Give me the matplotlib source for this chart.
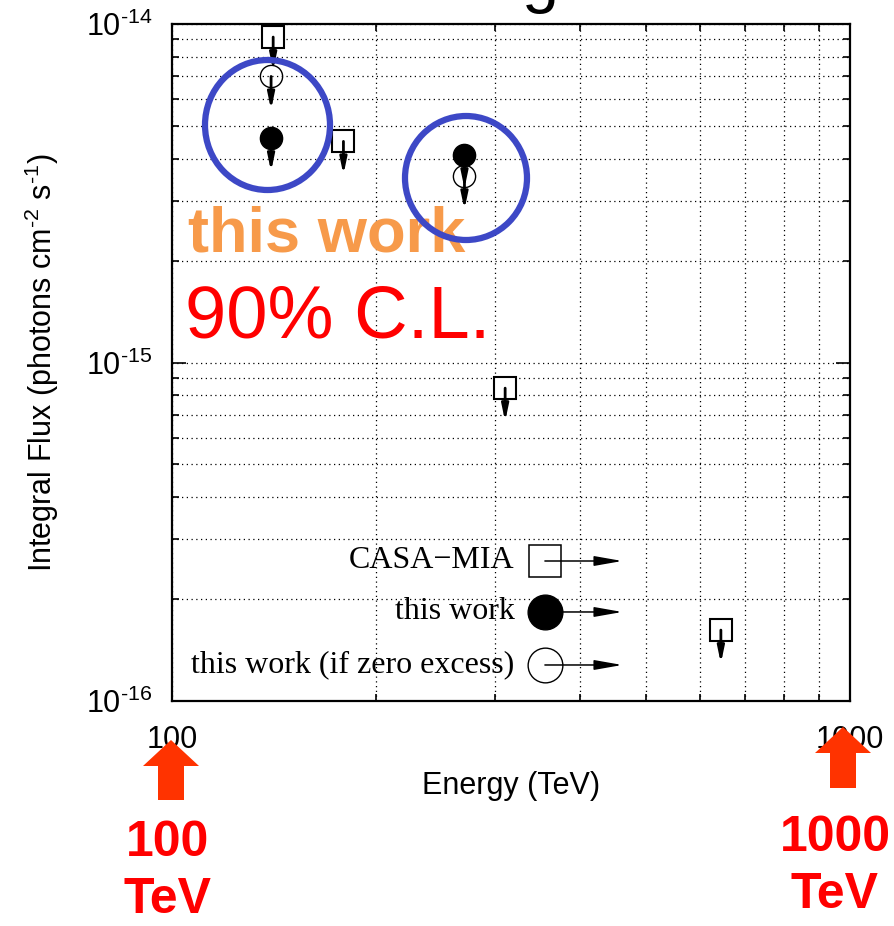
import math
import matplotlib
matplotlib.use("Agg")
import matplotlib.pyplot as plt
from matplotlib.patches import Ellipse, FancyArrow
from matplotlib.transforms import offset_copy
from matplotlib.ticker import FixedLocator, FuncFormatter, LogLocator, NullFormatter

# ---------------- data ----------------
casa_energy = [141, 179, 310, 645]
casa_flux = [9.15e-15, 4.5e-15, 8.4e-16, 1.62e-16]
work_energy = [140, 270]
work_flux = [4.6e-15, 4.1e-15]
zero_energy = [140, 270]
zero_flux = [7.0e-15, 3.55e-15]
legend_labels = ["CASA\u2212MIA", "this work", "this work (if zero excess)"]
xtick_vals = [100, 1000]
ytick_vals = [1e-16, 1e-15, 1e-14]

plt.rcParams['font.family'] = ['Liberation Sans', 'DejaVu Sans']
plt.rcParams['mathtext.fontset'] = 'custom'
plt.rcParams['mathtext.rm'] = 'Liberation Sans'
plt.rcParams['mathtext.it'] = 'Liberation Sans'

W, H = 895, 926
fig = plt.figure(figsize=(W / 100, H / 100), dpi=100)
ax = fig.add_axes([172 / W, 1 - 701 / H, 678 / W, 677 / H])
ax.set_xscale('log')
ax.set_yscale('log')
ax.set_xlim(100, 1000)
ax.set_ylim(1e-16, 1e-14)

ax.xaxis.set_major_locator(FixedLocator(xtick_vals))
ax.xaxis.set_major_formatter(FuncFormatter(lambda v, p: f"{int(round(v))}"))
ax.xaxis.set_minor_locator(LogLocator(base=10, subs=range(2, 10)))
ax.xaxis.set_minor_formatter(NullFormatter())
ax.yaxis.set_major_locator(FixedLocator(ytick_vals))
ax.yaxis.set_major_formatter(FuncFormatter(
    lambda v, p: r"$10^{\text{-}%d}$" % abs(round(math.log10(v)))))
ax.yaxis.set_minor_locator(LogLocator(base=10, subs=range(2, 10)))
ax.yaxis.set_minor_formatter(NullFormatter())

ax.tick_params(which='both', direction='in', top=True, right=True, width=1.2)
ax.tick_params(which='major', length=10, labelsize=22)
ax.tick_params(which='minor', length=5)
ax.tick_params(axis='x', which='major', pad=17)
ax.tick_params(axis='y', which='major', pad=14)
for s in ax.spines.values():
    s.set_linewidth(1.6)

ax.grid(which='both', linestyle=(0, (1.0, 2.8)), color='black', linewidth=0.9)
ax.set_axisbelow(True)

ax.set_xlabel("Energy (TeV)", fontsize=22, labelpad=12)
ax.set_ylabel(r"Integral Flux (photons cm$^{\text{-}2}$ s$^{\text{-}1}$)", fontsize=22, labelpad=18)

# markers
ax.plot(casa_energy, casa_flux, linestyle='none', marker='s', markersize=16,
        markerfacecolor='white', markeredgecolor='black', markeredgewidth=1.5, zorder=4)
ax.plot(work_energy, work_flux, linestyle='none', marker='o', markersize=16,
        markerfacecolor='black', markeredgecolor='black', zorder=4)
ax.plot(zero_energy, zero_flux, linestyle='none', marker='o', markersize=16,
        markerfacecolor='none', markeredgecolor='black', markeredgewidth=1.0, zorder=4)

down = offset_copy(ax.transData, fig=fig, x=0, y=-24, units='points')
for E, F in zip(casa_energy + work_energy + zero_energy, casa_flux + work_flux + zero_flux):
    ax.annotate('', xy=(E, F), xycoords=down, xytext=(E, F), textcoords='data',
                arrowprops=dict(arrowstyle='-|>,head_length=0.95,head_width=0.2',
                                mutation_scale=10, lw=2.0, color='black',
                                shrinkA=0, shrinkB=0), zorder=5)

# legend (manual)
leg_y = [0.2068, 0.1315, 0.0532]
leg_x = 0.550
leg_end = 0.664
ax.plot([leg_x], [leg_y[0]], transform=ax.transAxes, marker='s', markersize=23,
        markerfacecolor='white', markeredgecolor='black', markeredgewidth=1.1, zorder=6)
ax.plot([leg_x], [leg_y[1]], transform=ax.transAxes, marker='o', markersize=25,
        markerfacecolor='black', markeredgecolor='black', zorder=6)
ax.plot([leg_x], [leg_y[2]], transform=ax.transAxes, marker='o', markersize=25,
        markerfacecolor='white', markeredgecolor='black', markeredgewidth=1.0, zorder=6)
for yy, lab in zip(leg_y, legend_labels):
    ax.annotate('', xy=(leg_end, yy), xycoords='axes fraction', xytext=(leg_x, yy),
                textcoords='axes fraction',
                arrowprops=dict(arrowstyle='-|>,head_length=1.7,head_width=0.3',
                                mutation_scale=10, lw=1.1, color='black',
                                shrinkA=0, shrinkB=0), zorder=7)
    ax.text(0.505, yy, lab, transform=ax.transAxes, ha='right', va='center',
            fontsize=23, family=['Liberation Serif', 'DejaVu Serif'], zorder=7)

# annotations
fig.text(188 / W, 1 - 235 / H, "this work", color='#f79a4a', fontsize=45.5,
         fontweight='bold', ha='left', va='center')
fig.text(185 / W, 1 - 318 / H, "90% C.L.", color='#ff0000', fontsize=53.5,
         ha='left', va='center')

for cx, cy, rx, ry in [(267.5, 125, 62.5, 65), (466, 178, 61, 62)]:
    e = Ellipse((cx / W, 1 - cy / H), 2 * rx / W, 2 * ry / H, transform=fig.transFigure,
                facecolor='none', edgecolor='#3d48c6', linewidth=4.5, zorder=10)
    fig.add_artist(e)

# red arrows below the axis
for cx, ytop, ybase, ybot in [(171, 740, 766, 800), (843, 727, 753, 788)]:
    arr = FancyArrow(cx / W, 1 - ybot / H, 0, (ybot - ytop) / H, width=26 / W,
                     head_width=56 / W, head_length=(ybase - ytop) / H,
                     length_includes_head=True, transform=fig.transFigure,
                     facecolor='#ff3300', edgecolor='none', zorder=10)
    fig.add_artist(arr)

fig.text(168 / W, 1 - 843 / H, "100", color='#ff0000', fontsize=36, fontweight='bold',
         ha='center', va='center')
fig.text(168 / W, 1 - 900 / H, "TeV", color='#ff0000', fontsize=36, fontweight='bold',
         ha='center', va='center')
fig.text(835 / W, 1 - 838 / H, "1000", color='#ff0000', fontsize=36, fontweight='bold',
         ha='center', va='center')
fig.text(835 / W, 1 - 895 / H, "TeV", color='#ff0000', fontsize=36, fontweight='bold',
         ha='center', va='center')

# clipped title fragment at the top (reference shows only the descender)
fig.text(540 / W, 1.0, "g", fontsize=48, ha='center', va='baseline')

fig.savefig("out.png", dpi=100)
